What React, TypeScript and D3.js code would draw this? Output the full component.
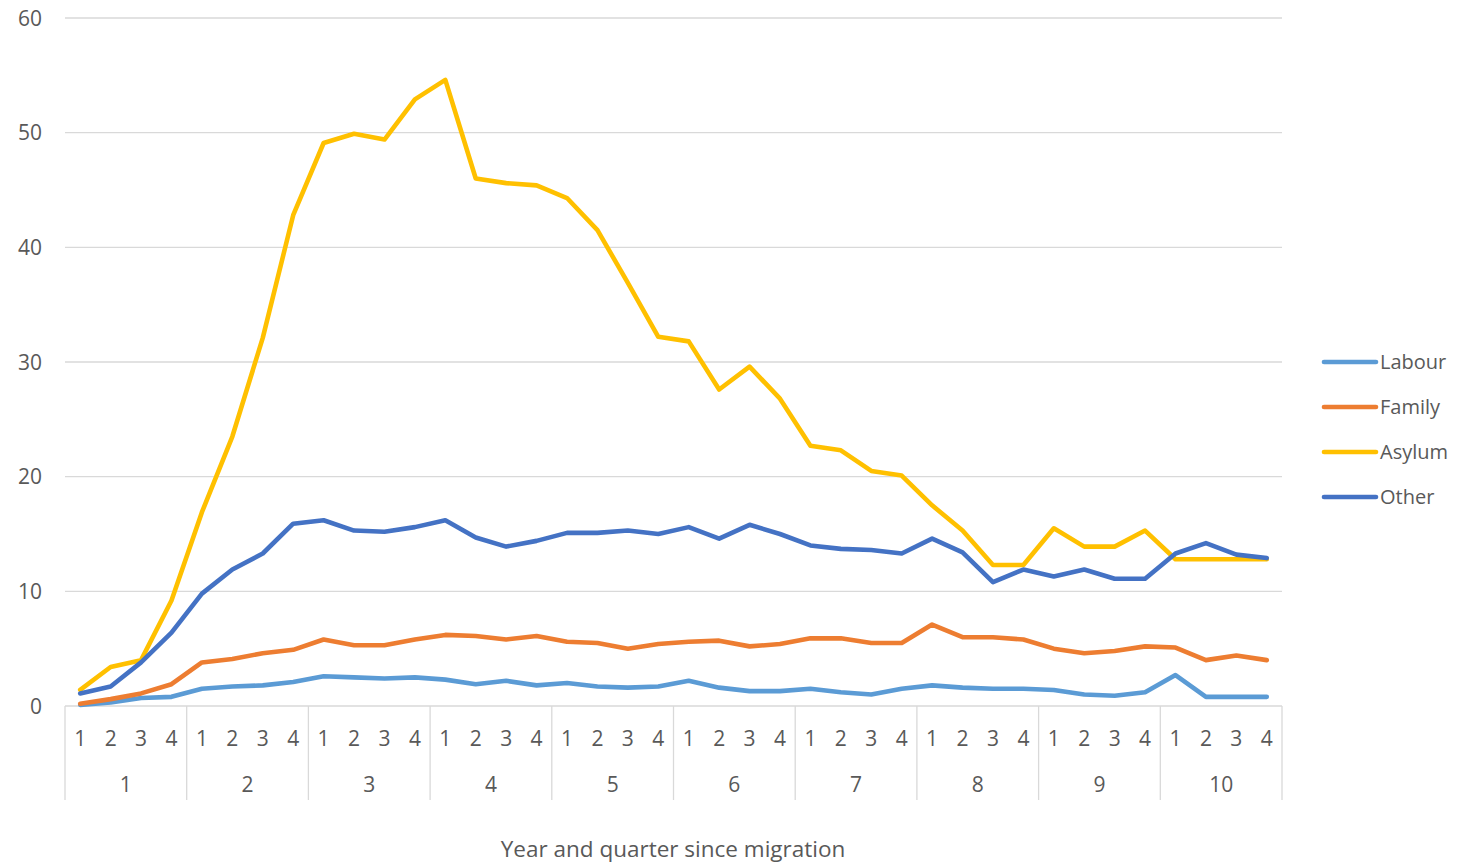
import { useEffect, useRef } from 'react';
import * as d3 from 'd3';

// quarters 1-4 within each year 1-10
const years = ['1', '2', '3', '4', '5', '6', '7', '8', '9', '10'];
const quarters = ['1', '2', '3', '4'];

const labour = [
  0.1, 0.3, 0.7, 0.8, 1.5, 1.7, 1.8, 2.1, 2.6, 2.5, 2.4, 2.5, 2.3, 1.9, 2.2, 1.8, 2.0, 1.7, 1.6, 1.7,
  2.2, 1.6, 1.3, 1.3, 1.5, 1.2, 1.0, 1.5, 1.8, 1.6, 1.5, 1.5, 1.4, 1.0, 0.9, 1.2, 2.7, 0.8, 0.8, 0.8,
];
const family = [
  0.2, 0.6, 1.1, 1.9, 3.8, 4.1, 4.6, 4.9, 5.8, 5.3, 5.3, 5.8, 6.2, 6.1, 5.8, 6.1, 5.6, 5.5, 5.0, 5.4,
  5.6, 5.7, 5.2, 5.4, 5.9, 5.9, 5.5, 5.5, 7.1, 6.0, 6.0, 5.8, 5.0, 4.6, 4.8, 5.2, 5.1, 4.0, 4.4, 4.0,
];
const asylum = [
  1.4, 3.4, 4.0, 9.2, 16.9, 23.5, 32.1, 42.8, 49.1, 49.9, 49.4, 52.9, 54.6, 46.0, 45.6, 45.4, 44.3, 41.5, 36.9, 32.2,
  31.8, 27.6, 29.6, 26.8, 22.7, 22.3, 20.5, 20.1, 17.5, 15.3, 12.3, 12.3, 15.5, 13.9, 13.9, 15.3, 12.8, 12.8, 12.8, 12.8,
];
const other = [
  1.1, 1.7, 3.8, 6.4, 9.8, 11.9, 13.3, 15.9, 16.2, 15.3, 15.2, 15.6, 16.2, 14.7, 13.9, 14.4, 15.1, 15.1, 15.3, 15.0,
  15.6, 14.6, 15.8, 15.0, 14.0, 13.7, 13.6, 13.3, 14.6, 13.4, 10.8, 11.9, 11.3, 11.9, 11.1, 11.1, 13.3, 14.2, 13.2, 12.9,
];

const seriesNames = ['Labour', 'Family', 'Asylum', 'Other'];
const seriesColors = ['#5B9BD5', '#ED7D31', '#FFC000', '#4472C4'];
const yTicks = [0, 10, 20, 30, 40, 50, 60];

const W = 1465;
const H = 865;

const App = () => {
  const ref = useRef<SVGSVGElement>(null);

  useEffect(() => {
    const svg = d3.select(ref.current);
    svg.selectAll('*').remove();

    const font = '"Open Sans", "Noto Sans", sans-serif';
    const textColor = '#595959';
    const gridColor = '#D9D9D9';

    const left = 65;
    const right = 1282;
    const top = 18;
    const bottom = 706;

    const keys = d3.range(years.length * quarters.length);
    const x = d3.scaleBand<number>().domain(keys).range([left, right]).padding(0);
    const y = d3.scaleLinear().domain([0, 60]).range([bottom, top]);
    const cx = (i: number) => (x(i) as number) + x.bandwidth() / 2;

    // horizontal gridlines
    svg.append('g')
      .selectAll('line')
      .data(yTicks)
      .join('line')
      .attr('x1', left)
      .attr('x2', right)
      .attr('y1', d => y(d))
      .attr('y2', d => y(d))
      .attr('stroke', gridColor)
      .attr('stroke-width', 1.3);

    // y tick labels
    svg.append('g')
      .selectAll('text')
      .data(yTicks)
      .join('text')
      .attr('x', 42)
      .attr('y', d => y(d))
      .attr('dy', '0.36em')
      .attr('text-anchor', 'end')
      .style('font-family', font)
      .style('font-size', '21px')
      .style('fill', textColor)
      .text(d => d);

    // year dividers on the category axis
    const yearStarts = d3.range(years.length + 1).map(k => left + k * quarters.length * x.bandwidth());
    svg.append('g')
      .selectAll('line')
      .data(yearStarts)
      .join('line')
      .attr('x1', d => d)
      .attr('x2', d => d)
      .attr('y1', bottom)
      .attr('y2', bottom + 94)
      .attr('stroke', gridColor)
      .attr('stroke-width', 1.3);

    // quarter labels
    svg.append('g')
      .selectAll('text')
      .data(keys)
      .join('text')
      .attr('x', d => cx(d))
      .attr('y', bottom + 40)
      .attr('text-anchor', 'middle')
      .style('font-family', font)
      .style('font-size', '21px')
      .style('fill', textColor)
      .text(d => quarters[d % quarters.length]);

    // year labels
    svg.append('g')
      .selectAll('text')
      .data(years)
      .join('text')
      .attr('x', (d, i) => (yearStarts[i] + yearStarts[i + 1]) / 2)
      .attr('y', bottom + 86)
      .attr('text-anchor', 'middle')
      .style('font-family', font)
      .style('font-size', '21px')
      .style('fill', textColor)
      .text(d => d);

    // axis title
    svg.append('text')
      .attr('x', 673)
      .attr('y', 857)
      .attr('text-anchor', 'middle')
      .style('font-family', font)
      .style('font-size', '22.5px')
      .style('fill', textColor)
      .text('Year and quarter since migration');

    // lines
    const allSeries = [labour, family, asylum, other];
    const line = d3.line<number>().x((d, i) => cx(i)).y(d => y(d));
    allSeries.forEach((s, i) => {
      svg.append('path')
        .datum(s)
        .attr('d', line)
        .attr('fill', 'none')
        .attr('stroke', seriesColors[i])
        .attr('stroke-width', 4.6)
        .attr('stroke-linejoin', 'round')
        .attr('stroke-linecap', 'round');
    });

    // legend
    const legend = svg.append('g').attr('transform', 'translate(1322, 362)');
    seriesNames.forEach((name, i) => {
      const row = legend.append('g').attr('transform', `translate(0, ${i * 45})`);
      row.append('line')
        .attr('x1', 2)
        .attr('x2', 54)
        .attr('stroke', seriesColors[i])
        .attr('stroke-width', 4.6)
        .attr('stroke-linecap', 'round');
      row.append('text')
        .attr('x', 58)
        .attr('dy', '0.36em')
        .style('font-family', font)
        .style('font-size', '20px')
        .style('fill', textColor)
        .text(name);
    });
  }, []);

  return (
    <svg
      ref={ref}
      width={W}
      height={H}
      style={{ display: 'block', position: 'absolute', left: 0, top: 0 }}
    />
  );
};

export default App;
